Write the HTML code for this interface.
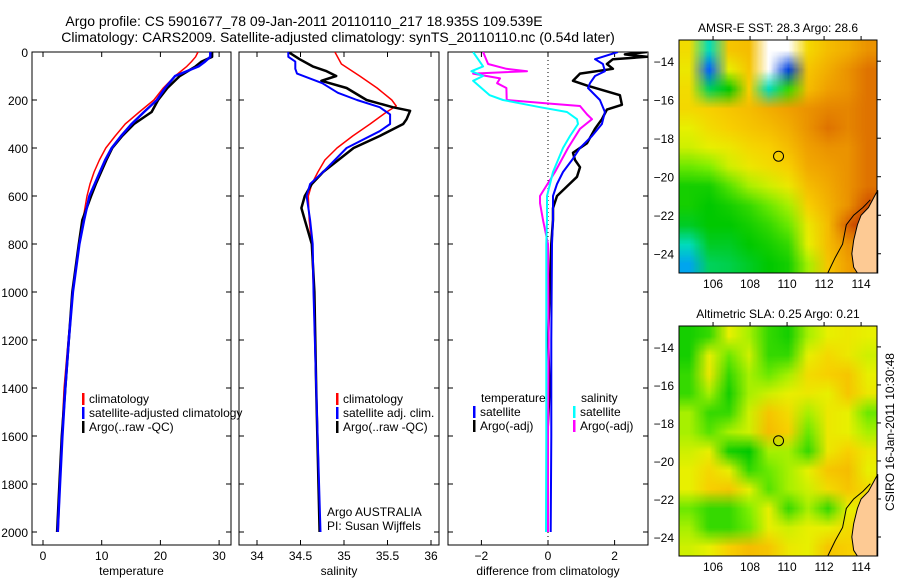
<!DOCTYPE html>
<html><head><meta charset="utf-8"><style>
html,body{margin:0;padding:0;background:#fff;}
#wrap{position:relative;width:900px;height:580px;overflow:hidden;font-family:"Liberation Sans",sans-serif;}
canvas{position:absolute;}
svg{position:absolute;left:0;top:0;}
svg text{font-family:"Liberation Sans",sans-serif;font-size:12px;fill:#000;}
</style></head><body>
<div id="wrap">
<canvas id="map1" width="198" height="233" style="left:679px;top:40px;width:198px;height:233px"></canvas>
<canvas id="map2" width="198" height="230" style="left:679px;top:326px;width:198px;height:230px"></canvas>
<svg id="svg" width="900" height="580" xmlns="http://www.w3.org/2000/svg"></svg>
</div>
<script>
// ---- data ----
const tDepth=[0,20,40,60,100,150,200,250,300,350,400,450,500,550,600,700,800,1000,1200,1400,1600,1800,2000];
const tClim=[26.4,26,25.3,24.5,22.5,20.5,18.9,16.4,14.0,12.3,10.7,9.6,8.7,8.0,7.5,6.8,6.1,5.1,4.3,3.6,3.2,2.9,2.6];
const tSat=[28.5,28.5,27.6,26.5,22.5,20.8,19.4,17.2,15.1,13.3,11.7,10.6,9.7,8.8,7.9,7.0,6.2,5.1,4.4,3.8,3.3,2.9,2.5];
const tArgo=[28.8,28.8,27.0,26.0,23.3,21.2,19.6,18.5,15.5,13.5,11.8,10.8,9.9,9.0,8.2,6.7,6.1,5.0,4.4,3.8,3.2,2.8,2.4];

const sClimDepth=[0,50,100,150,200,225,250,300,350,400,450,500,550,600,700,800,1000,1400,2000];
const sClim=[34.895,34.97,35.18,35.38,35.55,35.6,35.49,35.30,35.10,34.92,34.78,34.70,34.63,34.59,34.6,34.63,34.65,34.68,34.72];
const sSatDepth=[0,20,40,70,90,130,170,200,230,260,300,330,400,500,550,600,700,800,1000,1400,2000];
const sSat=[34.36,34.36,34.44,34.44,34.46,34.75,34.93,35.15,35.41,35.53,35.53,35.41,35.03,34.76,34.61,34.57,34.61,34.64,34.65,34.68,34.73];
const sArgoDepth=[0,30,60,80,100,120,150,200,230,245,280,300,350,400,500,550,600,650,700,800,1000,1400,2000];
const sArgo=[34.36,34.49,34.64,34.80,34.91,34.74,35.03,35.26,35.56,35.76,35.72,35.68,35.41,35.11,34.76,34.63,34.55,34.51,34.55,34.63,34.66,34.68,34.72];

const dTSatDepth=[0,30,50,80,100,130,150,200,250,300,350,400,450,500,550,600,700,800,1200,1600,2000];
const dTSat=[2.1,1.41,1.65,1.71,1.41,1.26,1.2,1.56,1.71,1.62,1.32,0.96,0.72,0.45,0.27,0.15,0.15,0.12,0.1,0.1,0.08];
const dTArgoDepth=[0,10,20,30,50,70,90,120,140,180,220,240,280,320,380,420,450,480,520,560,600,650,700,800,1200,1400,1600,2000];
const dTArgo=[2.97,2.31,2.97,1.95,1.77,1.95,0.96,0.75,1.17,2.16,2.22,1.77,1.62,1.41,1.17,0.75,0.81,0.96,0.87,0.57,0.27,0.15,0.15,0.1,0.0,0.05,-0.02,-0.02];
const dSSatDepth=[0,60,80,100,120,150,180,200,230,250,280,300,350,400,500,600,700,800,1200,1600,2000];
const dSSat=[-2.25,-1.95,-2.3,-1.95,-2.25,-2.0,-1.75,-1.35,-0.24,0.57,0.87,0.9,0.66,0.45,0.15,-0.03,-0.03,-0.05,-0.05,-0.05,-0.06];
const dSArgoDepth=[0,50,70,80,90,110,130,150,200,215,225,260,280,320,400,500,600,630,700,800,1200,1600,2000];
const dSArgo=[-1.95,-1.8,-1.25,-0.63,-2.25,-1.44,-1.53,-1.25,-1.24,0.06,0.96,1.17,1.32,0.96,0.6,0.21,-0.24,-0.24,-0.15,0.0,0.02,0.0,0.0];

const depthTicks=[0,200,400,600,800,1000,1200,1400,1600,1800,2000];
const tTicks=[0,10,20,30];
const sTicks=[34,34.5,35,35.5,36];
const dTicks=[-2,0,2];
const lonTicks=[106,108,110,112,114];
const latTicks=[-14,-16,-18,-20,-22,-24];

// map grids (value 0..1 colormap; -1 white/no data)
const sstGrid=[
[0.65,0.3,0.7,0.72,-1,-1,0.66,0.72,0.75,0.8],
[0.62,0.15,0.6,0.7,-1,0.1,0.7,0.75,0.8,0.85],
[0.65,0.35,0.4,0.68,0.3,0.45,0.72,0.78,0.8,0.85],
[0.66,0.68,0.7,0.72,0.75,0.78,0.8,0.82,0.82,0.85],
[0.6,0.65,0.68,0.7,0.72,0.75,0.8,0.85,0.82,0.85],
[0.58,0.6,0.62,0.66,0.68,0.72,0.78,0.8,0.8,0.85],
[0.5,0.52,0.58,0.62,0.65,0.68,0.76,0.78,0.8,0.85],
[0.42,0.42,0.48,0.55,0.58,0.62,0.72,0.76,0.8,0.85],
[0.42,0.4,0.42,0.45,0.5,0.55,0.68,0.74,0.8,0.9],
[0.38,0.4,0.4,0.42,0.45,0.5,0.62,0.72,0.88,0.95],
[0.3,0.38,0.38,0.4,0.42,0.45,0.6,0.72,0.8,0.8],
[0.22,0.35,0.36,0.38,0.4,0.42,0.55,0.7,0.78,0.8]];
const slaGrid=[
[0.42,0.45,0.6,0.55,0.45,0.42,0.55,0.6,0.62,0.6],
[0.42,0.6,0.5,0.58,0.45,0.45,0.6,0.66,0.62,0.58],
[0.45,0.62,0.45,0.55,0.5,0.55,0.65,0.68,0.7,0.6],
[0.45,0.55,0.42,0.55,0.58,0.6,0.62,0.6,0.7,0.62],
[0.55,0.45,0.45,0.58,0.7,0.65,0.55,0.62,0.6,0.5],
[0.55,0.48,0.55,0.58,0.72,0.68,0.5,0.62,0.6,0.55],
[0.58,0.6,0.42,0.4,0.55,0.55,0.45,0.62,0.68,0.62],
[0.6,0.66,0.6,0.45,0.5,0.55,0.6,0.7,0.72,0.6],
[0.6,0.68,0.7,0.6,0.48,0.55,0.58,0.65,0.7,0.65],
[0.5,0.45,0.45,0.52,0.6,0.45,0.55,0.45,0.6,0.62],
[0.55,0.45,0.45,0.5,0.6,0.58,0.6,0.6,0.65,0.65],
[0.58,0.6,0.68,0.72,0.7,0.62,0.6,0.7,0.68,0.68]];
const landLon=[114.9,114.4,114.0,113.8,113.6,113.5,113.6,113.8,114.9];
const landLat=[-20.7,-21.6,-22.0,-22.5,-23.3,-24.0,-24.7,-25.0,-25.0];
const coastLon=[112.2,112.6,113.0,113.2,113.6,114.1,114.5];
const coastLat=[-25.0,-24.2,-23.5,-22.5,-22.0,-21.6,-21.2];
const argoLon=109.539, argoLat=-18.935;

// ---- helpers ----
const NS='http://www.w3.org/2000/svg';
const svg=document.getElementById('svg');
function mk(tag,attrs,parent){const e=document.createElementNS(NS,tag);for(const k in attrs)e.setAttribute(k,attrs[k]);(parent||svg).appendChild(e);return e;}
function txt(x,y,s,anchor,parent){const t=mk('text',{x:x,y:y,'text-anchor':anchor||'start'},parent);t.textContent=s;return t;}
const yD=d=>52+0.24*d;
const PT=545;
const panels=[
 {x0:32,x1:231,xs:v=>43+5.87*v,ticks:tTicks,title:'temperature',name:'temperature-panel'},
 {x0:239,x1:439,xs:v=>257+87*(v-34),ticks:sTicks,title:'salinity',name:'salinity-panel'},
 {x0:448,x1:648,xs:v=>548+33.3*v,ticks:dTicks,title:'difference from climatology',name:'difference-panel'}];

// titles
let t1=txt(304,26,'Argo profile: CS 5901677_78 09-Jan-2011 20110110_217 18.935S 109.539E','middle');
t1.setAttribute('style','font-size:14px');

let t2=txt(338,42,'Climatology: CARS2009. Satellite-adjusted climatology: synTS_20110110.nc (0.54d later)','middle');
t2.setAttribute('style','font-size:14px');


panels.forEach((p,i)=>{
 const g=mk('g',{});
 
 const cp=mk('clipPath',{id:'clip'+i},g);mk('rect',{x:p.x0,y:52,width:p.x1-p.x0,height:PT-52},cp);
 mk('rect',{x:p.x0,y:52,width:p.x1-p.x0,height:PT-52,fill:'none',stroke:'#000','stroke-width':1},g);
 depthTicks.forEach(d=>{
   mk('line',{x1:p.x0,x2:p.x0+5,y1:yD(d),y2:yD(d),stroke:'#000'},g);
   mk('line',{x1:p.x1,x2:p.x1-5,y1:yD(d),y2:yD(d),stroke:'#000'},g);
   if(i==0){const l=txt(28,yD(d)+5,String(d),'end',g);}
 });
 p.ticks.forEach(v=>{
   const x=p.xs(v);
   mk('line',{x1:x,x2:x,y1:PT,y2:PT-5,stroke:'#000'},g);
   mk('line',{x1:x,x2:x,y1:52,y2:57,stroke:'#000'},g);
   const l=txt(x,560,String(v).replace('-','\u2212'),'middle',g);
   
 });
 const at=txt((p.x0+p.x1)/2,575,p.title,'middle',g);
 
 p.g=g;
});

function series(pi,vals,depths,color,w,name){
 const p=panels[pi];
 const pts=vals.map((v,k)=>p.xs(v).toFixed(1)+','+yD(depths[k]).toFixed(1)).join(' ');
 const l=mk('polyline',{points:pts,fill:'none',stroke:color,'stroke-width':w,'clip-path':'url(#clip'+pi+')','stroke-linejoin':'round'},p.g);
 
 
}
series(0,tClim,tDepth,'#f00',1.5,'temperature-climatology-line');
series(0,tArgo,tDepth,'#000',2.5,'temperature-argo-line');
series(0,tSat,tDepth,'#00f',2.5,'temperature-satellite-line');
series(1,sClim,sClimDepth,'#f00',1.5,'salinity-climatology-line');
series(1,sArgo,sArgoDepth,'#000',2.5,'salinity-argo-line');
series(1,sSat,sSatDepth,'#00f',2,'salinity-satellite-line');
mk('line',{x1:548,x2:548,y1:52,y2:PT,stroke:'#000','stroke-dasharray':'1,3'},panels[2].g);
series(2,dTArgo,dTArgoDepth,'#000',2.5,'diff-temperature-argo-line');
series(2,dTSat,dTSatDepth,'#00f',2,'diff-temperature-satellite-line');
series(2,dSArgo,dSArgoDepth,'#f0f',2,'diff-salinity-argo-line');
series(2,dSSat,dSSatDepth,'#0ff',2,'diff-salinity-satellite-line');

function legend(x,y,color,label,name){
 const g=mk('g',{});
 
 mk('rect',{x:x-2,y:y-10,width:2.5,height:12,fill:color},g);
 txt(x+5,y,label,'start',g);
}
legend(84,403,'#f00','climatology','legend-climatology');
legend(84,417,'#00f','satellite-adjusted climatology','legend-satellite-adjusted');
legend(84,431,'#000','Argo(..raw -QC)','legend-argo-raw');
legend(338,403,'#f00','climatology','legend-sal-climatology');
legend(338,417,'#00f','satellite adj. clim.','legend-sal-satellite');
legend(338,431,'#000','Argo(..raw -QC)','legend-sal-argo');
let tt=txt(481,402,'temperature');
let st=txt(581,402,'salinity');
legend(475,416,'#00f','satellite','legend-temp-satellite');
legend(475,430,'#000','Argo(-adj)','legend-temp-argo');
legend(575,416,'#0ff','satellite','legend-sal-sat');
legend(575,430,'#f0f','Argo(-adj)','legend-sal-argo-adj');
let a1=txt(327,516,'Argo AUSTRALIA');
let a2=txt(327,530,'PI: Susan Wijffels');

// ---- maps ----
const stops=[[0,[0,0,160]],[0.15,[0,96,255]],[0.28,[0,224,224]],[0.4,[0,200,0]],[0.52,[128,240,0]],[0.6,[232,240,0]],[0.68,[248,208,0]],[0.78,[240,160,0]],[0.88,[216,96,0]],[1,[160,0,0]]];
function cmap(v){
 if(v===-1)return [255,255,255];
 for(let i=1;i<stops.length;i++){if(v<=stops[i][0]){const a=stops[i-1],b=stops[i],f=(v-a[0])/(b[0]-a[0]);return a[1].map((c,k)=>Math.round(c+(b[1][k]-c)*f));}}
 return stops[stops.length-1][1];
}
function drawMap(id,grid){
 const c=document.getElementById(id),ctx=c.getContext('2d');
 const rows=grid.length,cols=grid[0].length;
 const off=document.createElement('canvas');off.width=cols;off.height=rows;
 const octx=off.getContext('2d');const im=octx.createImageData(cols,rows);
 grid.forEach((r,j)=>r.forEach((v,i)=>{const col=cmap(v);const o=(j*cols+i)*4;im.data[o]=col[0];im.data[o+1]=col[1];im.data[o+2]=col[2];im.data[o+3]=255;}));
 octx.putImageData(im,0,0);
 ctx.imageSmoothingEnabled=true;ctx.drawImage(off,0,0,c.width,c.height);
}
drawMap('map1',sstGrid);drawMap('map2',slaGrid);

const maps=[{top:40,bot:273,title:'AMSR-E SST: 28.3 Argo: 28.6',name:'sst-map'},{top:326,bot:556,title:'Altimetric SLA: 0.25 Argo: 0.21',name:'sla-map'}];
maps.forEach((m,i)=>{
 const g=mk('g',{});
 
 const L=679,R=877;
 const xl=lon=>L+(lon-104.16)*(R-L)/(114.86-104.16);
 const yl=lat=>m.top+(-12.9-lat)*(m.bot-m.top)/(25.0-12.9);
 mk('polygon',{points:landLon.map((lo,k)=>xl(lo)+','+yl(landLat[k])).join(' '),fill:'#fdca94',stroke:'#000','stroke-width':1},g);
 mk('polyline',{points:coastLon.map((lo,k)=>xl(lo)+','+yl(coastLat[k])).join(' '),fill:'none',stroke:'#000','stroke-width':1},g);
 mk('rect',{x:L,y:m.top,width:R-L,height:m.bot-m.top,fill:'none',stroke:'#000'},g);
 lonTicks.forEach(lo=>{mk('line',{x1:xl(lo),x2:xl(lo),y1:m.top,y2:m.top-4,stroke:'#000'},g);
   const l=txt(xl(lo),m.bot+15,String(lo),'middle',g);});
 latTicks.forEach(la=>{mk('line',{x1:R,x2:R+4,y1:yl(la),y2:yl(la),stroke:'#000'},g);
   const l=txt(L-5,yl(la)+5,String(la).replace('-','\u2212'),'end',g);});
 const c=mk('circle',{cx:xl(argoLon),cy:yl(argoLat),r:5,fill:'none',stroke:'#000'},g);
 
 const t=txt((L+R)/2,m.top-8,m.title,'middle',g);
 
});
let cs=txt(0,0,'CSIRO 16-Jan-2011 10:30:48','middle');
cs.setAttribute('transform','translate(894,432) rotate(-90)');

</script>
</body></html>
